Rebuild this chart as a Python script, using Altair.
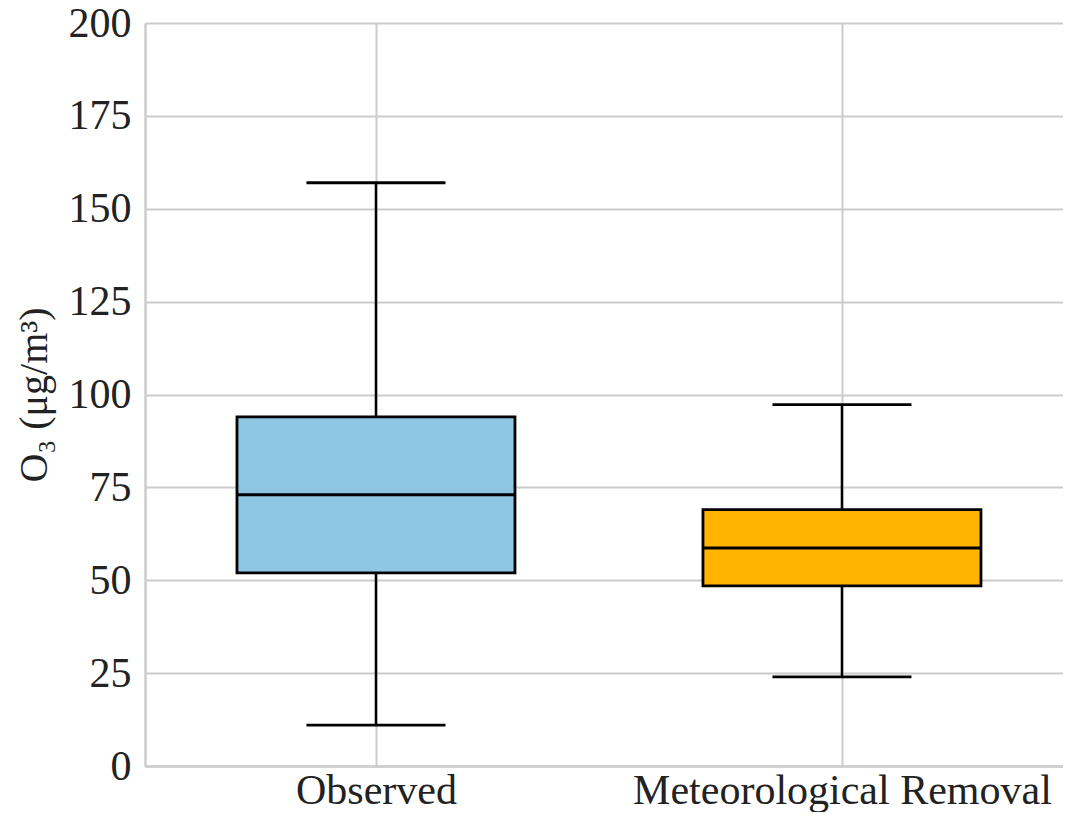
import altair as alt
import pandas as pd

categories = ["Observed", "Meteorological Removal"]
whisker_low = [11.0, 24.0]
q1 = [52.0, 48.5]
median = [73.0, 58.7]
q3 = [94.0, 69.0]
whisker_high = [157.0, 97.3]
colors = ["#8EC7E4", "#FFB400"]

df = pd.DataFrame({
    "cat": categories, "lo": whisker_low, "q1": q1, "med": median,
    "q3": q3, "hi": whisker_high, "color": colors,
})

xenc = alt.X("cat:N", sort=categories,
             scale=alt.Scale(type="point", padding=0.485, align=0.511),
             axis=alt.Axis(title=None, labelAngle=0, labelFontSize=42,
                           labelFont="Liberation Serif", labelColor="#222222",
                           labelPadding=4, labelLimit=1000, ticks=False, grid=True,
                           gridColor="#cccccc", gridWidth=2,
                           domainColor="#cccccc", domainWidth=2.5))
yscale = alt.Scale(domain=[0, 200], nice=False)
yaxis = alt.Axis(title="O₃ (μg/m³)", titleFontSize=40, titleFont="Liberation Serif",
                 titleFontWeight="normal", titleColor="#222222", titlePadding=14,
                 values=[0, 25, 50, 75, 100, 125, 150, 175, 200],
                 labelFontSize=42, labelFont="Liberation Serif", labelColor="#222222",
                 labelPadding=14, ticks=False, grid=True, gridColor="#cccccc",
                 gridWidth=2, domainColor="#cccccc", domainWidth=2.5)

base = alt.Chart(df)

whisk_lo = base.mark_rule(color="black", strokeWidth=2.5).encode(
    x=xenc, y=alt.Y("lo:Q", scale=yscale, axis=yaxis), y2="q1:Q")
whisk_hi = base.mark_rule(color="black", strokeWidth=2.5).encode(
    x=xenc, y=alt.Y("q3:Q", scale=yscale, axis=yaxis), y2="hi:Q")
box = base.mark_bar(size=278, stroke="black", strokeWidth=2.8, opacity=1).encode(
    x=xenc, y=alt.Y("q1:Q", scale=yscale, axis=yaxis), y2="q3:Q",
    fill=alt.Fill("color:N", scale=None))
med = base.mark_tick(size=278, thickness=3, color="black", opacity=1).encode(
    x=xenc, y=alt.Y("med:Q", scale=yscale, axis=yaxis))
cap_lo = base.mark_tick(size=139, thickness=2.8, color="black", opacity=1).encode(
    x=xenc, y=alt.Y("lo:Q", scale=yscale, axis=yaxis))
cap_hi = base.mark_tick(size=139, thickness=2.8, color="black", opacity=1).encode(
    x=xenc, y=alt.Y("hi:Q", scale=yscale, axis=yaxis))

chart = alt.layer(whisk_lo, whisk_hi, box, med, cap_lo, cap_hi).properties(
    width=918, height=743,
    autosize=alt.AutoSizeParams(type="none"),
    padding={"left": 137, "top": 15, "right": 0, "bottom": 46},
).configure_view(stroke=None).configure(background="white")

chart.save("out.html", embed_options={"renderer": "svg", "actions": False})
